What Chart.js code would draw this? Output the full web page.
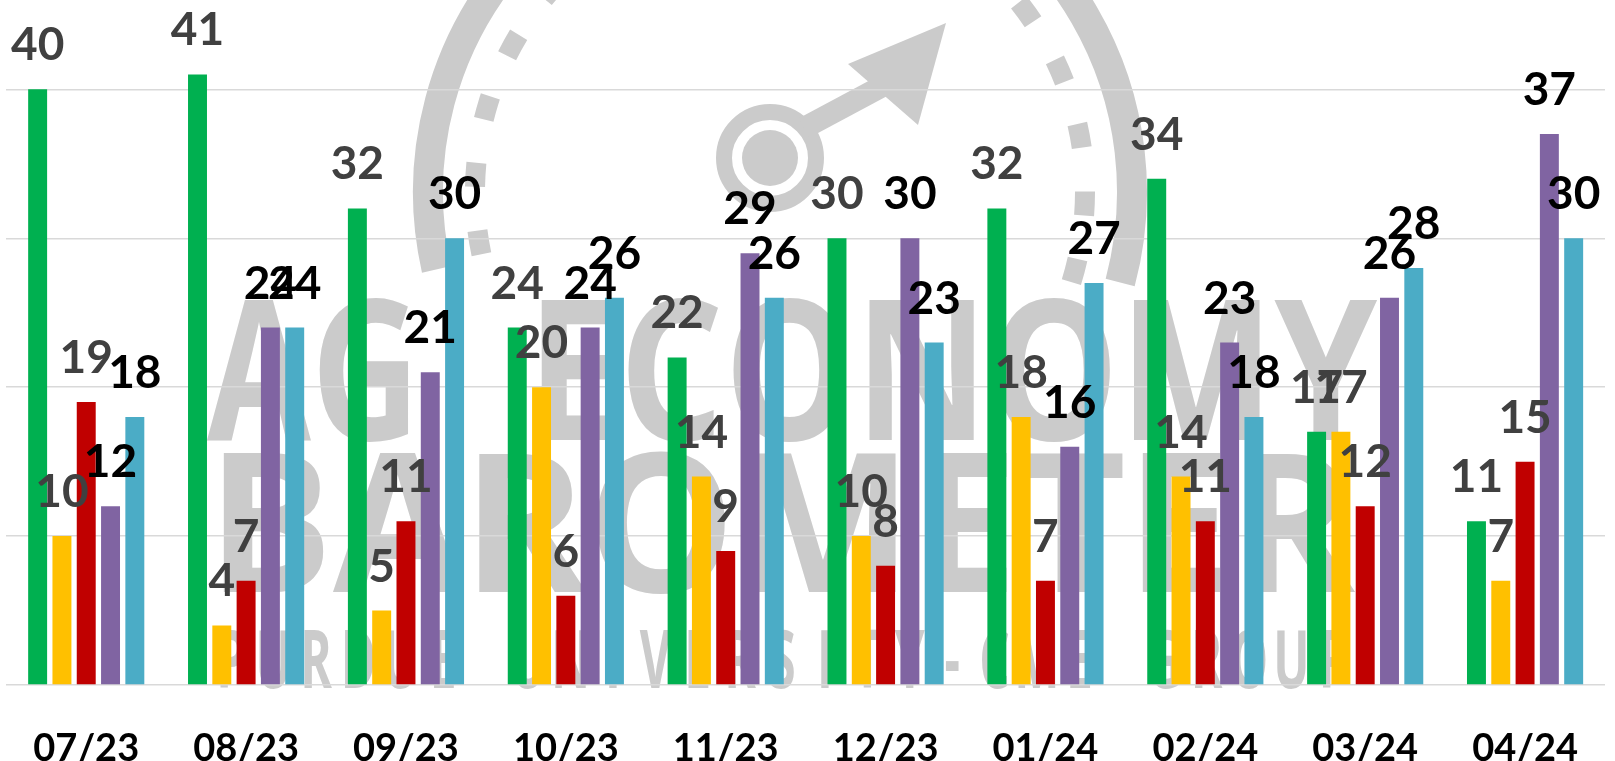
<!DOCTYPE html>
<html>
<head>
<meta charset="utf-8">
<script src="https://cdn.jsdelivr.net/npm/chart.js@4.4.1/dist/chart.umd.min.js"></script>
<style>
html, body { margin: 0; padding: 0; background: #fff; }
#wrap { width: 1615px; height: 761px; }
</style>
</head>
<body>
<div id="wrap"><canvas id="barometer" width="1615" height="761"></canvas></div>
<script>
// survey months
const months = ["07/23", "08/23", "09/23", "10/23", "11/23", "12/23", "01/24", "02/24", "03/24", "04/24"];

// one array per bar colour, percent
const greenVals  = [40, 41, 32, 24, 22, 30, 32, 34, 17, 11];
const yellowVals = [10, 4, 5, 20, 14, 10, 18, 14, 17, 7];
const redVals    = [19, 7, 11, 6, 9, 8, 7, 11, 12, 15];
const purpleVals = [12, 24, 21, 24, 29, 30, 16, 23, 26, 37];
const tealVals   = [18, 24, 30, 26, 26, 23, 27, 18, 28, 30];

const gridValues = [0, 10, 20, 30, 40];

const barColors   = ["#00B050", "#FFC000", "#C00000", "#8064A2", "#4BACC6"];
const labelColors = ["#404040", "#404040", "#404040", "#000000", "#000000"];

// faded logo behind the bars
const watermark = {
    id: "watermark",
    beforeDraw(chart) {
        const ctx = chart.ctx;
        const grey = "#cbcbcb";
        ctx.save();
        ctx.fillStyle = grey;
        ctx.strokeStyle = grey;

        // gauge ring
        ctx.lineWidth = 30;
        ctx.beginPath();
        ctx.arc(780, 192, 352, 0.26, 2.92, true);
        ctx.stroke();

        // tick marks
        ctx.lineWidth = 20;
        ctx.setLineDash([24, 44]);
        ctx.beginPath();
        ctx.arc(780, 192, 305, 0.3, 2.88, true);
        ctx.stroke();
        ctx.setLineDash([]);

        // hub
        const hx = 770, hy = 158;
        ctx.lineWidth = 16;
        ctx.beginPath();
        ctx.arc(hx, hy, 46, 0, Math.PI * 2);
        ctx.stroke();
        ctx.beginPath();
        ctx.arc(hx, hy, 28, 0, Math.PI * 2);
        ctx.fill();

        // needle
        ctx.lineWidth = 22;
        ctx.beginPath();
        ctx.moveTo(hx + 34, hy - 30);
        ctx.lineTo(890, 82);
        ctx.stroke();
        ctx.beginPath();
        ctx.moveTo(946, 23);
        ctx.lineTo(918, 125);
        ctx.lineTo(848, 64);
        ctx.closePath();
        ctx.fill();

        const stretched = (text, x, baseline, width, font) => {
            ctx.font = font;
            const w = ctx.measureText(text).width;
            ctx.save();
            ctx.translate(x, baseline);
            ctx.scale(width / w, 1);
            ctx.textAlign = "left";
            ctx.textBaseline = "alphabetic";
            ctx.fillText(text, 0, 0);
            ctx.restore();
        };

        stretched("AG", 207, 440, 213, "bold 196px 'Open Sans'");
        stretched("ECONOMY", 527, 440, 850, "bold 196px 'Open Sans'");
        stretched("BAROMETER", 207, 592, 1148, "bold 194px 'Open Sans'");

        const small = "PURDUE UNIVERSITY-CME GROUP";
        const step = 1145 / small.length;
        ctx.font = "bold 80px 'Open Sans'";
        ctx.textAlign = "center";
        for (let i = 0; i < small.length; i++) {
            ctx.save();
            ctx.translate(210 + step * (i + 0.5), 688);
            ctx.scale(0.6, 1);
            ctx.fillText(small[i], 0, 0);
            ctx.restore();
        }
        ctx.restore();
    }
};

// numbers over each bar
const valueLabels = {
    id: "valueLabels",
    afterDatasetsDraw(chart) {
        const ctx = chart.ctx;
        ctx.save();
        ctx.font = "bold 46px Lato";
        ctx.textAlign = "center";
        ctx.textBaseline = "alphabetic";
        chart.data.datasets.forEach((ds, i) => {
            const meta = chart.getDatasetMeta(i);
            ctx.fillStyle = labelColors[i];
            meta.data.forEach((bar, j) => {
                ctx.fillText(String(ds.data[j]), bar.x, bar.y - 29);
            });
        });
        ctx.restore();
    }
};

const series = [greenVals, yellowVals, redVals, purpleVals, tealVals];
const names = ["Green", "Yellow", "Red", "Purple", "Teal"];

new Chart(document.getElementById("barometer"), {
    type: "bar",
    data: {
        labels: months,
        datasets: series.map((vals, i) => ({
            label: names[i],
            data: vals,
            backgroundColor: barColors[i],
            borderWidth: 0,
            categoryPercentage: 0.76,
            barPercentage: 0.78
        }))
    },
    options: {
        responsive: false,
        animation: false,
        devicePixelRatio: 1,
        layout: { padding: { left: 6, right: 10, top: 0, bottom: 0 } },
        plugins: {
            legend: { display: false },
            tooltip: { enabled: false }
        },
        scales: {
            x: {
                grid: { display: false },
                border: { display: false },
                ticks: {
                    color: "#000",
                    font: { family: "Lato", weight: "bold", size: 38 },
                    padding: 33
                },
                afterFit(s) { s.height = 76; }
            },
            y: {
                min: 0,
                max: 46,
                border: { display: false },
                ticks: { display: false, stepSize: 10 },
                grid: { color: "#d9d9d9", lineWidth: 1.5, drawTicks: false },
                afterFit(s) { s.width = 0; },
                afterBuildTicks(s) {
                    s.ticks = gridValues.map(v => ({ value: v }));
                }
            }
        }
    },
    plugins: [watermark, valueLabels]
});
</script>
</body>
</html>
